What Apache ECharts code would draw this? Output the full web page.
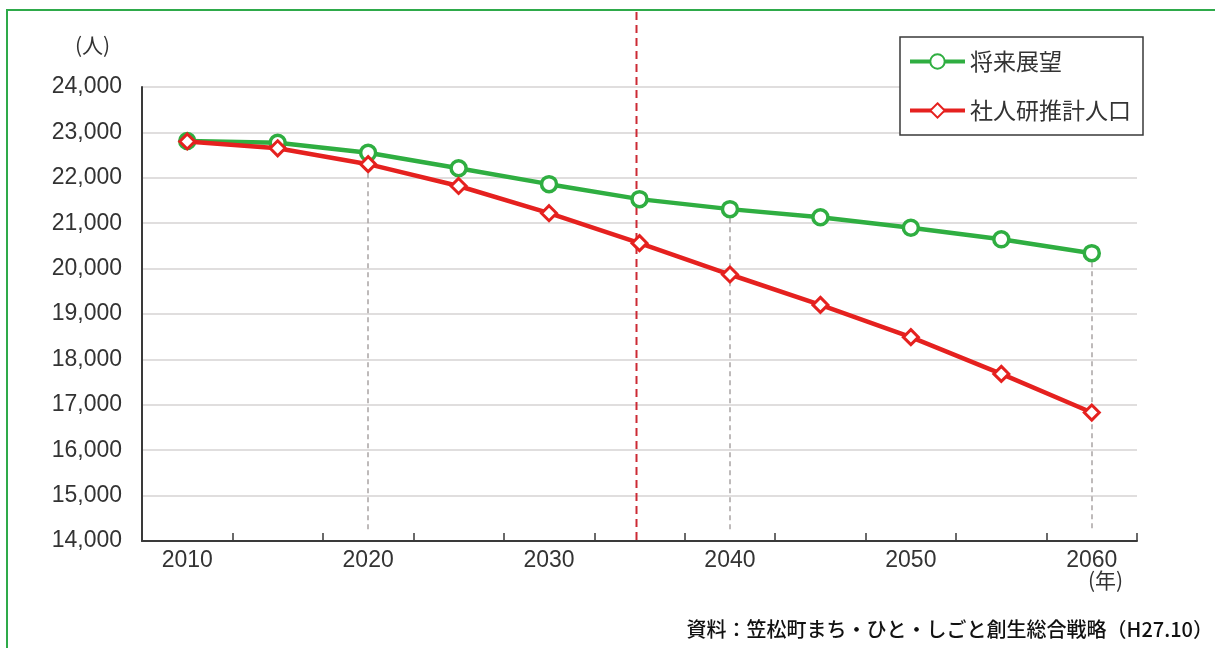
<!DOCTYPE html>
<html>
<head>
<meta charset="utf-8">
<script src="https://cdn.jsdelivr.net/npm/echarts@6/dist/echarts.min.js"></script>
<style>
html,body{margin:0;padding:0;background:#fff;}
#chart{width:1215px;height:648px;}
</style>
</head>
<body>
<div id="chart"></div>
<script>
const years = ['2010','2015','2020','2025','2030','2035','2040','2045','2050','2055','2060'];
const visionValues = [22810, 22770, 22550, 22210, 21860, 21530, 21310, 21130, 20900, 20645, 20340];
const ipssValues = [22800, 22650, 22300, 21820, 21220, 20560, 19870, 19200, 18490, 17680, 16830];
const seriesNames = ['将来展望', '社人研推計人口'];
const yTicks = {min: 14000, max: 24000, interval: 1000};
const yUnit = '(人)';
const xUnit = '(年)';
const sourceText = '資料：笠松町まち・ひと・しごと創生総合戦略（H27.10）';
const dividerYear = '2035';
const guideYears = [['2020', 1], ['2040', 0], ['2060', 0]];
const guideBottom = 14200;

const GREEN = '#2fae41';
const RED = '#e5211f';
const numFont = '"Liberation Sans Narrow", "Liberation Sans", sans-serif';
const cjkFont = '"Noto Sans CJK JP", sans-serif';

const chart = echarts.init(document.getElementById('chart'), null, {renderer: 'canvas'});

function guideLines(seriesIdx) {
  const vals = seriesIdx === 0 ? visionValues : ipssValues;
  return guideYears.filter(g => g[1] === seriesIdx).map(g => {
    const i = years.indexOf(g[0]);
    return [{coord: [g[0], vals[i]]}, {coord: [g[0], guideBottom]}];
  });
}

const option = {
  animation: false,
  backgroundColor: '#ffffff',
  grid: {left: 142, right: 78, top: 87, bottom: 107, containLabel: false},
  legend: {
    orient: 'vertical',
    left: 900,
    top: 37,
    padding: [12, 12, 12, 8],
    itemGap: 24,
    itemWidth: 55,
    itemHeight: 18,
    itemTextGap: 5,
    borderColor: '#3a3a3a',
    borderWidth: 1.5,
    backgroundColor: '#fff',
    lineStyle: {width: 4},
    textStyle: {fontFamily: cjkFont, fontSize: 23, color: '#333', lineHeight: 25},
    data: seriesNames
  },
  xAxis: {
    type: 'category',
    data: years,
    boundaryGap: true,
    axisLine: {show: true, lineStyle: {color: '#3a3a3a', width: 2}},
    axisTick: {show: true, inside: true, length: 8, interval: 0, alignWithLabel: false, lineStyle: {color: '#3a3a3a', width: 1.5}},
    axisLabel: {interval: 1, margin: 8, fontFamily: numFont, fontSize: 23, color: '#333'},
    splitLine: {show: false}
  },
  yAxis: {
    type: 'value',
    min: yTicks.min,
    max: yTicks.max,
    interval: yTicks.interval,
    axisLine: {show: true, lineStyle: {color: '#3a3a3a', width: 2}},
    axisTick: {show: false},
    axisLabel: {
      margin: 20,
      fontFamily: numFont,
      fontSize: 23,
      color: '#333',
      formatter: v => v.toLocaleString('en-US')
    },
    splitLine: {show: true, lineStyle: {color: '#d6d3d3', width: 1.5}}
  },
  series: [
    {
      name: seriesNames[0],
      type: 'line',
      data: visionValues,
      symbol: 'circle',
      symbolSize: 15,
      z: 4,
      lineStyle: {color: GREEN, width: 4.5},
      itemStyle: {color: '#fff', borderColor: GREEN, borderWidth: 3.5},
      markLine: {
        silent: true,
        symbol: 'none',
        z: 1,
        label: {show: false},
        lineStyle: {color: '#a9a4a4', width: 1.5, type: [5, 4]},
        data: guideLines(0)
      }
    },
    {
      name: seriesNames[1],
      type: 'line',
      data: ipssValues,
      symbol: 'diamond',
      symbolSize: 15,
      z: 5,
      lineStyle: {color: RED, width: 4.5},
      itemStyle: {color: '#fff', borderColor: RED, borderWidth: 3},
      markLine: {
        silent: true,
        symbol: 'none',
        z: 1,
        label: {show: false},
        lineStyle: {color: '#a9a4a4', width: 1.5, type: [5, 4]},
        data: guideLines(1)
      }
    }
  ],
  graphic: [
    {
      id: 'frame', type: 'rect', z: 0, silent: true,
      shape: {x: 7, y: 10, width: 1300, height: 700},
      style: {fill: 'none', stroke: '#2eaa4a', lineWidth: 2}
    },
    {
      id: 'yunit', type: 'text', left: 75, top: 35,
      style: {text: yUnit, font: '21px ' + cjkFont, fill: '#333'}
    },
    {
      id: 'xunit', type: 'text', left: 1088, top: 570,
      style: {text: xUnit, font: '21px ' + cjkFont, fill: '#333'}
    },
    {
      id: 'source', type: 'text', right: 2, top: 619,
      style: {text: sourceText, font: '500 20px ' + cjkFont, fill: '#111'}
    }
  ]
};

chart.setOption(option);

const dx = chart.convertToPixel({xAxisIndex: 0}, dividerYear);
const dyBottom = chart.convertToPixel({yAxisIndex: 0}, yTicks.min);
chart.setOption({
  graphic: [
    {
      id: 'divider', type: 'line', z: 1, silent: true,
      shape: {x1: dx - 3, y1: 12, x2: dx - 3, y2: dyBottom},
      style: {stroke: '#cc2a34', lineWidth: 2, lineDash: [8, 5]}
    }
  ]
});
</script>
</body>
</html>
